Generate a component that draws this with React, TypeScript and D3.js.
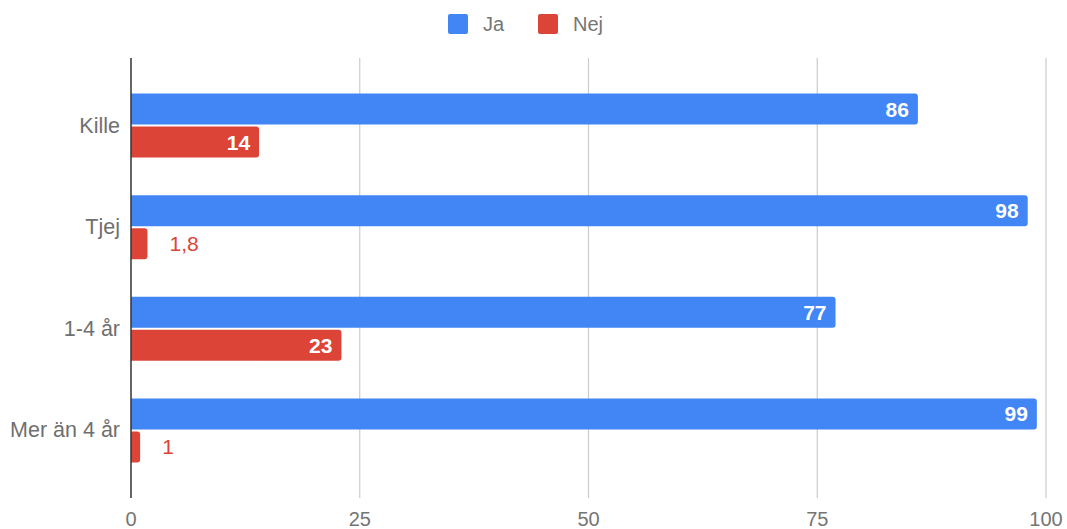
import React from "react";
import * as d3 from "d3";

const categories = ["Kille", "Tjej", "1-4 år", "Mer än 4 år"];
const seriesNames = ["Ja", "Nej"];
const jaValues = [86, 98, 77, 99];
const nejValues = [14, 1.8, 23, 1];
const xTicks = [0, 25, 50, 75, 100];
const colors = ["#4285F4", "#DB4437"];

const W = 1067;
const H = 529;
const FONT = "'Liberation Sans', Arial, Helvetica, sans-serif";

function fmt(v: number) {
  return String(v).replace(".", ",");
}

function barPath(x0: number, y: number, w: number, h: number, r: number) {
  const rr = Math.min(r, w / 2, h / 2);
  return `M${x0},${y}H${x0 + w - rr}Q${x0 + w},${y} ${x0 + w},${y + rr}V${y + h - rr}Q${x0 + w},${y + h} ${x0 + w - rr},${y + h}H${x0}Z`;
}

export default function App() {
  const x = d3.scaleLinear().domain([0, 100]).range([131, 1046]);
  const y = d3
    .scaleBand<string>()
    .domain(categories)
    .range([58, 498])
    .paddingInner(0.37)
    .paddingOuter(0.35);
  const sub = d3.scaleBand<string>().domain(seriesNames).range([0, y.bandwidth()]).paddingInner(0.06);
  const series = [jaValues, nejValues];

  return (
    <svg width={W} height={H} style={{ position: "absolute", left: 0, top: 0, background: "#fff" }}>
      {/* legend */}
      {seriesNames.map((s, i) => {
        const lx = i === 0 ? 448 : 538;
        return (
          <g key={s}>
            <rect x={lx} y={14} width={20} height={20} rx={2} fill={colors[i]} />
            <text x={lx + 35} y={31} fontFamily={FONT} fontSize={20} fill="#757575">
              {s}
            </text>
          </g>
        );
      })}
      {/* gridlines */}
      {xTicks.map((t) =>
        t === 0 ? null : (
          <line key={t} x1={x(t)} x2={x(t)} y1={58} y2={498} stroke="#cccccc" strokeWidth={1.2} />
        )
      )}
      {/* tick labels */}
      {xTicks.map((t) => (
        <text key={"t" + t} x={x(t)} y={526} textAnchor="middle" fontFamily={FONT} fontSize={20} fill="#757575">
          {t}
        </text>
      ))}
      {/* bars */}
      {categories.map((c, ci) => (
        <g key={c}>
          <text
            x={120}
            y={(y(c) as number) + y.bandwidth() / 2 + 7}
            textAnchor="end"
            fontFamily={FONT}
            fontSize={21.5}
            fill="#6f6f6f"
          >
            {c}
          </text>
          {seriesNames.map((s, si) => {
            const v = series[si][ci];
            const by = (y(c) as number) + (sub(s) as number);
            const bh = sub.bandwidth();
            const x0 = x(0);
            const bw = x(v) - x0;
            const inside = bw > 60;
            return (
              <g key={s}>
                <path d={barPath(x0, by, bw, bh, 3)} fill={colors[si]} />
                {inside ? (
                  <text
                    x={x(v) - 9}
                    y={by + bh / 2 + 7.5}
                    textAnchor="end"
                    fontFamily={FONT}
                    fontSize={21}
                    fontWeight="bold"
                    fill="#ffffff"
                  >
                    {fmt(v)}
                  </text>
                ) : (
                  <text
                    x={x(v) + 22}
                    y={by + bh / 2 + 7.5}
                    textAnchor="start"
                    fontFamily={FONT}
                    fontSize={21}
                    fill={colors[si]}
                  >
                    {fmt(v)}
                  </text>
                )}
              </g>
            );
          })}
        </g>
      ))}
      {/* axis line */}
      <line x1={x(0)} x2={x(0)} y1={58} y2={498} stroke="#333333" strokeWidth={1.5} />
    </svg>
  );
}
